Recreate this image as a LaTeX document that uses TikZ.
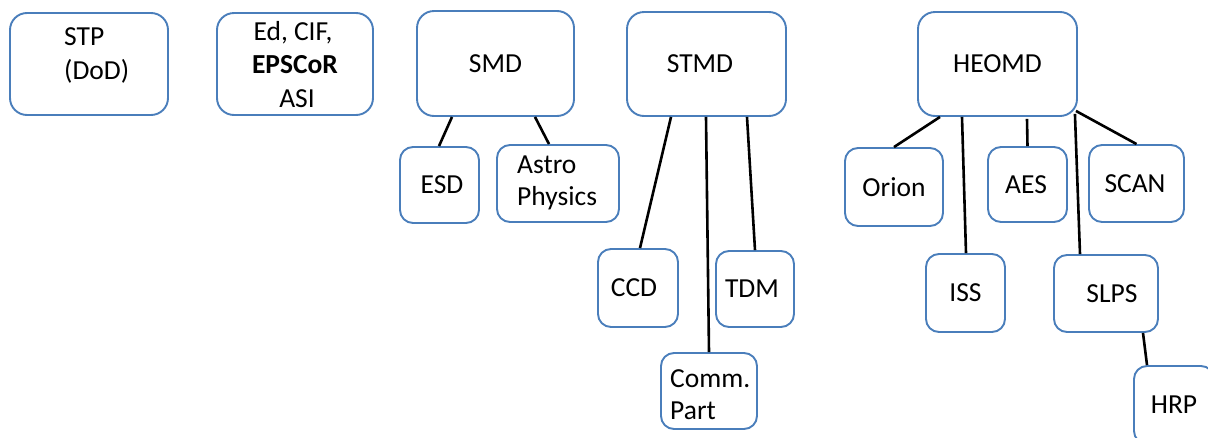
\documentclass[tikz,border=0pt]{standalone}
\usepackage{fontspec}
\setmainfont{Carlito}
\definecolor{boxblue}{HTML}{4A7EBB}
\newcommand\offx[2]{\hspace*{#1}#2\hspace*{-#1}}
\tikzset{
  box/.style={draw=boxblue, line width=1.9pt, rounded corners=13pt, inner sep=0pt,
    font=\fontsize{27.5}{34}\selectfont, text=black},
  bigbox/.style={box, rounded corners=17pt},
  txt/.style={inner sep=0pt, font=\fontsize{27.5}{34}\selectfont, text=black},
  link/.style={draw=black, line width=2.6pt}
}
\begin{document}
\begin{tikzpicture}[x=1pt,y=-1pt]
\useasboundingbox (0,0) rectangle (1208,437);
\clip (0,0) rectangle (1208,437);
% top-level boxes
\node[bigbox, minimum width=158pt, minimum height=102pt] (stp) at (89,64) {};
\node[bigbox, minimum width=156pt, minimum height=102pt] (ed) at (295,64) {};
\node[bigbox, minimum width=157pt, minimum height=105pt] (smd) at (495.5,63.5) {SMD};
\node[bigbox, minimum width=159pt, minimum height=104pt] (stmd) at (706.5,64) {\offx{-6.5pt}{STMD}};
\node[bigbox, minimum width=159pt, minimum height=104pt] (heomd) at (997.5,64) {HEOMD};
% texts of multi-line boxes
\node[txt, anchor=base west] (stp1) at (64,45) {STP};
\node[txt, anchor=base west] (stp2) at (64,79) {(DoD)};
\node[txt, anchor=base] (ed1) at (293,40) {Ed, CIF,};
\node[txt, anchor=base] (ed2) at (295,73) {\bfseries EPSCoR};
\node[txt, anchor=base] (ed3) at (297,107) {ASI};
% second level
\node[box, minimum width=79pt, minimum height=76pt] (esd) at (439.5,185) {\offx{2.5pt}{ESD}};
\node[box, minimum width=122pt, minimum height=77pt] (astro) at (558,183.5) {};
\node[txt, anchor=base west] (astro1) at (517,173) {Astro};
\node[txt, anchor=base west] (astro2) at (517,205) {Physics};
\node[box, minimum width=80pt, minimum height=78pt] (ccd) at (638,288) {\offx{-4pt}{CCD}};
\node[box, minimum width=78pt, minimum height=76pt] (tdm) at (755,289) {\offx{-3pt}{TDM}};
\node[box, minimum width=96pt, minimum height=76pt] (comm) at (709,391) {};
\node[txt, anchor=base west] (comm1) at (670,387) {Comm.};
\node[txt, anchor=base west] (comm2) at (670,419) {Part};
\node[box, minimum width=98pt, minimum height=78pt] (orion) at (894,187) {Orion};
\node[box, minimum width=79pt, minimum height=75pt] (aes) at (1027.5,184.5) {\offx{-1.5pt}{AES}};
\node[box, minimum width=95pt, minimum height=77pt] (scan) at (1136.5,183.5) {\offx{-1.5pt}{SCAN}};
\node[box, minimum width=79pt, minimum height=78pt] (iss) at (965.5,293) {ISS};
\node[box, minimum width=104pt, minimum height=77pt] (slps) at (1106,293.5) {\offx{6pt}{SLPS}};
\node[box, minimum width=80pt, minimum height=78pt] (hrp) at (1174,405) {HRP};
% connectors
\draw[link] ([xshift=-43.5pt]smd.south) -- ([xshift=-0.5pt]esd.north);
\draw[link] ([xshift=39.5pt]smd.south) -- ([xshift=-9pt]astro.north);
\draw[link] ([xshift=-35.5pt]stmd.south) -- ([xshift=2pt]ccd.north);
\draw[link] ([xshift=-0.5pt]stmd.south) -- (comm.north);
\draw[link] ([xshift=40.5pt]stmd.south) -- (tdm.north);
\draw[link] ([xshift=-57.5pt]heomd.south) -- (orion.north);
\draw[link] ([xshift=-35.5pt]heomd.south) -- ([xshift=0.5pt]iss.north);
\draw[link] ([xshift=29.5pt,yshift=-2pt]heomd.south) -- (aes.north);
\draw[link] ([xshift=-2pt,yshift=6pt]heomd.south east) -- (scan.north);
\draw[link] ([xshift=-3pt,yshift=3pt]heomd.south east) -- ([xshift=-26pt]slps.north);
\draw[link] ([xshift=37pt]slps.south) -- ([xshift=-27pt]hrp.north);
\end{tikzpicture}
\end{document}
